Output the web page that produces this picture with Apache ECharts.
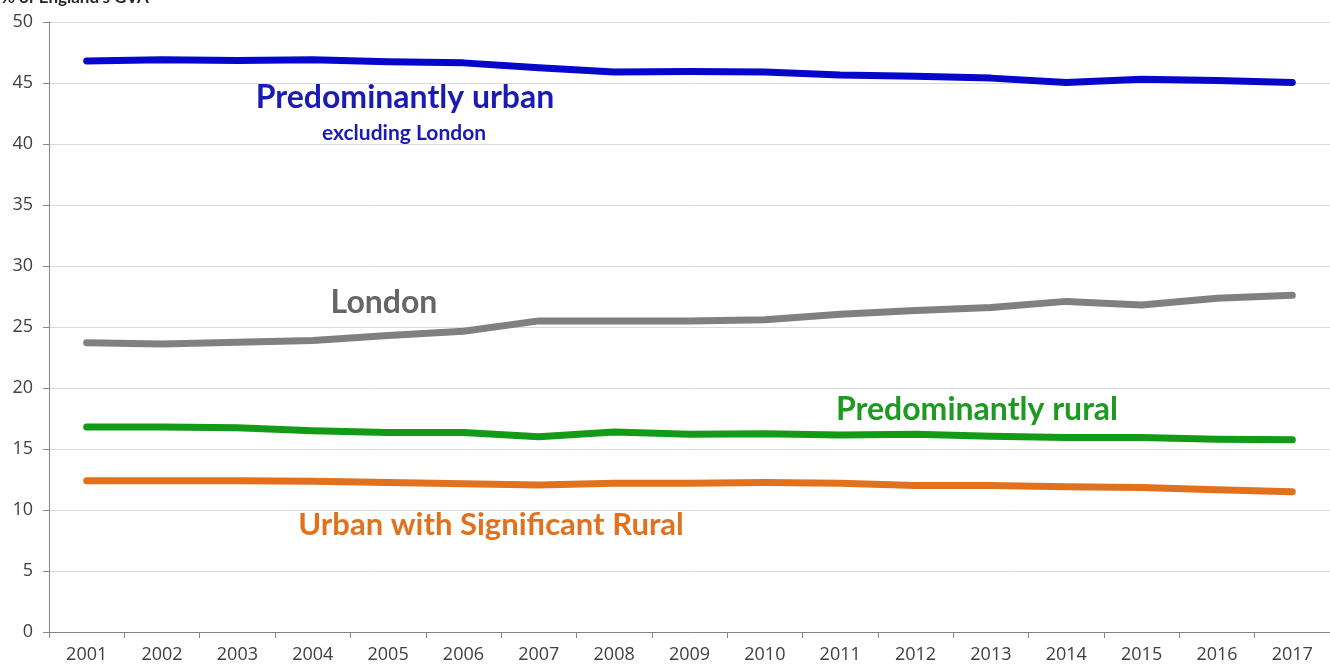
<!DOCTYPE html>
<html>
<head>
<meta charset="utf-8">
<script src="https://cdn.jsdelivr.net/npm/echarts@6/dist/echarts.min.js"></script>
<style>
html,body{margin:0;padding:0;background:#fff;}
#chart{width:1330px;height:668px;}
</style>
</head>
<body>
<div id="chart"></div>
<script>
const years = ['2001','2002','2003','2004','2005','2006','2007','2008','2009','2010','2011','2012','2013','2014','2015','2016','2017'];
const urbanExLondon = [46.8,46.9,46.85,46.9,46.75,46.65,46.25,45.9,45.95,45.9,45.65,45.55,45.4,45.05,45.3,45.2,45.05];
const london = [23.7,23.6,23.75,23.9,24.3,24.65,25.5,25.5,25.5,25.6,26.05,26.35,26.6,27.1,26.8,27.35,27.6];
const rural = [16.8,16.8,16.75,16.5,16.35,16.35,16.0,16.4,16.2,16.25,16.15,16.2,16.05,15.95,15.95,15.8,15.75];
const urbanSigRural = [12.4,12.4,12.4,12.35,12.25,12.15,12.05,12.2,12.2,12.25,12.2,12.0,12.0,11.9,11.85,11.65,11.5];
const yTicks = {min:0, max:50, interval:5};

const chart = echarts.init(document.getElementById('chart'));
const FONT = 'Lato, "Open Sans", sans-serif';
const AXFONT = '"Open Sans", sans-serif';
function line(name, data, color){
  return {name, type:'line', data, showSymbol:false, smooth:false, silent:true,
    lineStyle:{color, width:7, cap:'round', join:'round'}, itemStyle:{color}};
}
chart.setOption({
  animation:false,
  grid:{left:49, right:0, top:22, bottom:36},
  xAxis:{type:'category', data:years, boundaryGap:true,
    axisLine:{lineStyle:{color:'#868686', width:1}},
    axisTick:{show:true, interval:0, length:6, lineStyle:{color:'#868686'}},
    axisLabel:{color:'#404040', fontSize:18, fontFamily:AXFONT, margin:14, interval:0}},
  yAxis:{type:'value', min:yTicks.min, max:yTicks.max, interval:yTicks.interval,
    axisLine:{show:true, lineStyle:{color:'#868686', width:1}},
    axisTick:{show:true, length:6, lineStyle:{color:'#868686'}},
    axisLabel:{color:'#404040', fontSize:18, fontFamily:AXFONT, margin:16},
    splitLine:{lineStyle:{color:'#d9d9d9', width:1}}},
  series:[
    line('Predominantly urban excluding London', urbanExLondon, '#0606cc'),
    line('London', london, '#808080'),
    line('Predominantly rural', rural, '#139a17'),
    line('Urban with Significant Rural', urbanSigRural, '#e2711d')
  ],
  graphic:[
    {type:'text', left:1, top:-11, style:{text:"% of England's GVA", font:'bold 17px '+FONT, fill:'#262626'}},
    {type:'text', x:405, y:98, style:{text:'Predominantly urban', font:'bold 32px '+FONT, fill:'#1a1ab4', textAlign:'center', textVerticalAlign:'middle'}},
    {type:'text', x:404, y:133, style:{text:'excluding London', font:'bold 21px '+FONT, fill:'#1a1ab4', textAlign:'center', textVerticalAlign:'middle'}},
    {type:'text', x:384, y:303, style:{text:'London', font:'bold 32px '+FONT, fill:'#666666', textAlign:'center', textVerticalAlign:'middle'}},
    {type:'text', x:977, y:410, style:{text:'Predominantly rural', font:'bold 32px '+FONT, fill:'#1e9a22', textAlign:'center', textVerticalAlign:'middle'}},
    {type:'text', x:491, y:525, style:{text:'Urban with Significant Rural', font:'bold 31px '+FONT, fill:'#e2711d', textAlign:'center', textVerticalAlign:'middle'}}
  ]
});
</script>
</body>
</html>
